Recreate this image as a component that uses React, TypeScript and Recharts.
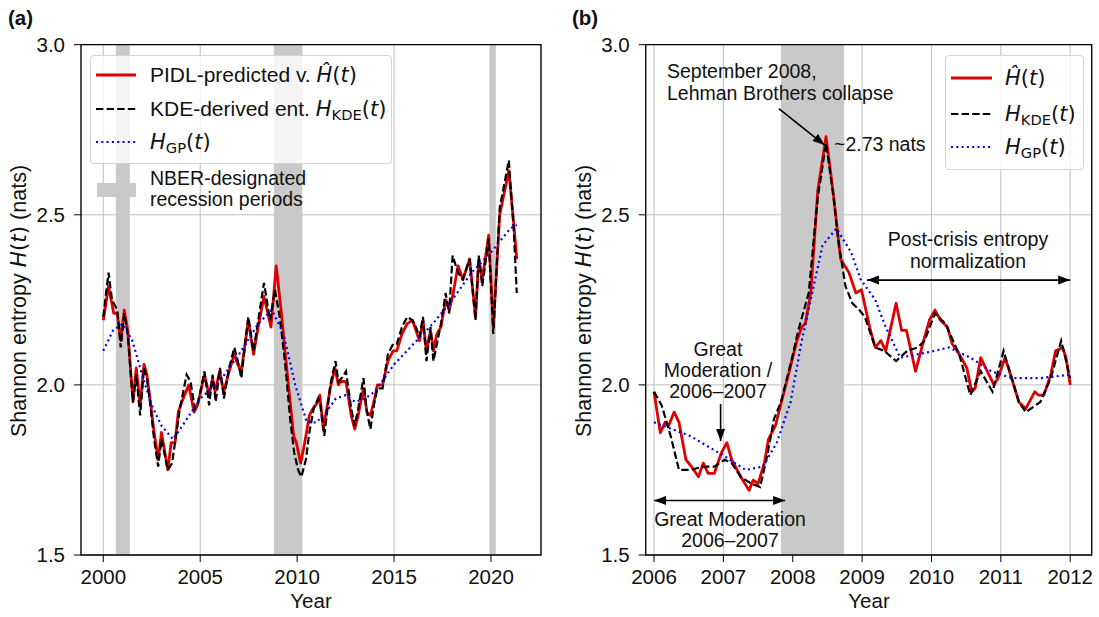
import React from 'react';
import {
  LineChart,
  Line,
  XAxis,
  YAxis,
  CartesianGrid,
  ReferenceArea,
  ReferenceLine,
} from 'recharts';

// ---- panel (a): 2000–2021 ----
const pidlA: [number, number][] = [
  [2000.0, 2.19], [2000.27, 2.29], [2000.54, 2.21], [2000.72, 2.21], [2000.9, 2.13],
  [2001.08, 2.22], [2001.26, 2.16], [2001.53, 1.95], [2001.7, 2.05], [2001.9, 1.94],
  [2002.1, 2.06], [2002.25, 2.03], [2002.43, 1.95], [2002.6, 1.87], [2002.83, 1.78],
  [2003.0, 1.86], [2003.15, 1.81], [2003.33, 1.75], [2003.5, 1.83], [2003.7, 1.83],
  [2003.87, 1.92], [2004.05, 1.95], [2004.41, 2.0], [2004.68, 1.92], [2004.86, 1.94],
  [2005.22, 2.03], [2005.46, 1.97], [2005.64, 2.02], [2005.77, 1.98], [2006.0, 2.04],
  [2006.22, 1.98], [2006.49, 2.04], [2006.76, 2.09], [2006.94, 2.06], [2007.12, 2.04],
  [2007.48, 2.19], [2007.75, 2.09], [2008.02, 2.18], [2008.29, 2.26], [2008.65, 2.17],
  [2008.92, 2.35], [2009.19, 2.21], [2009.37, 2.1], [2009.64, 1.95], [2009.82, 1.85],
  [2009.96, 1.83], [2010.18, 1.77], [2010.36, 1.82], [2010.63, 1.91], [2010.81, 1.93],
  [2011.08, 1.95], [2011.17, 1.97], [2011.35, 1.87], [2011.71, 1.99], [2011.95, 2.05],
  [2012.13, 2.0], [2012.25, 2.01], [2012.52, 2.01], [2012.79, 1.91], [2012.97, 1.87],
  [2013.15, 1.91], [2013.42, 1.99], [2013.6, 1.92], [2013.78, 1.91], [2013.96, 1.95],
  [2014.14, 2.0], [2014.41, 2.0], [2014.68, 2.07], [2014.95, 2.1], [2015.14, 2.1],
  [2015.41, 2.15], [2015.68, 2.18], [2015.95, 2.19], [2016.13, 2.16], [2016.31, 2.13],
  [2016.49, 2.19], [2016.67, 2.1], [2016.88, 2.16], [2017.03, 2.1], [2017.21, 2.15],
  [2017.42, 2.17], [2017.66, 2.25], [2017.84, 2.22], [2018.02, 2.26], [2018.3, 2.35],
  [2018.55, 2.31], [2018.9, 2.37], [2019.2, 2.2], [2019.37, 2.37], [2019.55, 2.31],
  [2019.88, 2.44], [2020.12, 2.17], [2020.45, 2.5], [2020.92, 2.63], [2021.18, 2.47],
  [2021.33, 2.37],
];

const kdeA: [number, number][] = [
  [2000.0, 2.2], [2000.27, 2.33], [2000.45, 2.25], [2000.72, 2.22], [2000.9, 2.11],
  [2001.08, 2.21], [2001.26, 2.15], [2001.53, 1.95], [2001.7, 2.03], [2001.9, 1.91],
  [2002.1, 2.05], [2002.25, 2.02], [2002.43, 1.94], [2002.6, 1.85], [2002.83, 1.76],
  [2003.0, 1.84], [2003.15, 1.8], [2003.33, 1.75], [2003.55, 1.77], [2003.75, 1.85],
  [2003.95, 1.93], [2004.3, 2.03], [2004.5, 2.01], [2004.72, 1.93], [2004.9, 1.95],
  [2005.22, 2.04], [2005.46, 1.94], [2005.64, 2.03], [2005.8, 1.95], [2006.02, 2.05],
  [2006.22, 1.96], [2006.49, 2.05], [2006.76, 2.11], [2006.94, 2.07], [2007.12, 2.02],
  [2007.48, 2.2], [2007.75, 2.1], [2008.02, 2.2], [2008.29, 2.3], [2008.6, 2.19],
  [2008.85, 2.28], [2009.1, 2.2], [2009.37, 2.07], [2009.64, 1.9], [2009.85, 1.8],
  [2010.05, 1.75], [2010.22, 1.73], [2010.45, 1.78], [2010.63, 1.86], [2010.85, 1.93],
  [2011.08, 1.96], [2011.2, 1.94], [2011.4, 1.85], [2011.71, 2.0], [2011.98, 2.07],
  [2012.13, 2.01], [2012.3, 2.02], [2012.52, 2.04], [2012.79, 1.93], [2012.97, 1.88],
  [2013.15, 1.93], [2013.42, 2.02], [2013.6, 1.92], [2013.78, 1.87], [2013.96, 1.94],
  [2014.14, 1.99], [2014.41, 1.99], [2014.68, 2.09], [2014.95, 2.12], [2015.14, 2.12],
  [2015.41, 2.17], [2015.68, 2.2], [2015.95, 2.19], [2016.13, 2.17], [2016.31, 2.14],
  [2016.49, 2.2], [2016.67, 2.07], [2016.88, 2.17], [2017.03, 2.07], [2017.21, 2.12],
  [2017.42, 2.18], [2017.66, 2.27], [2017.84, 2.21], [2018.02, 2.38], [2018.3, 2.33],
  [2018.55, 2.31], [2018.9, 2.37], [2019.2, 2.19], [2019.37, 2.38], [2019.55, 2.29],
  [2019.88, 2.43], [2020.12, 2.15], [2020.45, 2.52], [2020.92, 2.66], [2021.18, 2.45],
  [2021.33, 2.27],
];

const gpA: [number, number][] = [
  [2000.0, 2.1], [2000.5, 2.16], [2001.0, 2.18], [2001.5, 2.13], [2002.0, 2.03],
  [2002.5, 1.94], [2003.0, 1.88], [2003.6, 1.84], [2004.2, 1.89], [2005.0, 1.96],
  [2006.0, 2.01], [2007.0, 2.09], [2008.0, 2.18], [2008.7, 2.22], [2009.3, 2.15],
  [2009.9, 2.0], [2010.5, 1.89], [2011.0, 1.89], [2011.5, 1.92], [2012.0, 1.96],
  [2012.5, 1.97], [2013.0, 1.95], [2013.5, 1.96], [2014.0, 1.98], [2015.0, 2.06],
  [2016.0, 2.12], [2017.0, 2.18], [2018.0, 2.25], [2019.0, 2.33], [2020.0, 2.39],
  [2021.0, 2.46], [2021.33, 2.47],
];

const recessionsA: [number, number][] = [
  [2000.65, 2001.37],
  [2008.8, 2010.27],
  [2019.92, 2020.25],
];
const yearTicksA = [2000, 2005, 2010, 2015, 2020];

// ---- panel (b): 2006–2012 zoom ----
const pidlB: [number, number][] = [
  [2006.0, 1.98], [2006.09, 1.86], [2006.16, 1.89], [2006.21, 1.88], [2006.29, 1.92],
  [2006.36, 1.89], [2006.46, 1.78], [2006.54, 1.76], [2006.64, 1.73], [2006.71, 1.77],
  [2006.78, 1.74], [2006.87, 1.74], [2006.97, 1.8], [2007.05, 1.83], [2007.12, 1.78],
  [2007.25, 1.73], [2007.37, 1.69], [2007.43, 1.72], [2007.5, 1.71], [2007.59, 1.77],
  [2007.65, 1.84], [2007.75, 1.88], [2007.85, 1.96], [2007.95, 2.04], [2008.06, 2.13],
  [2008.13, 2.17], [2008.18, 2.18], [2008.26, 2.27], [2008.36, 2.57], [2008.48, 2.73],
  [2008.58, 2.57], [2008.69, 2.37], [2008.81, 2.33], [2008.91, 2.27], [2008.99, 2.28],
  [2009.12, 2.16], [2009.19, 2.11], [2009.27, 2.13], [2009.34, 2.1], [2009.49, 2.24],
  [2009.57, 2.16], [2009.64, 2.16], [2009.77, 2.04], [2009.9, 2.14], [2009.97, 2.19],
  [2010.05, 2.22], [2010.13, 2.19], [2010.23, 2.17], [2010.3, 2.12], [2010.4, 2.09],
  [2010.51, 2.05], [2010.58, 1.98], [2010.63, 1.99], [2010.71, 2.08], [2010.78, 2.05],
  [2010.9, 2.0], [2010.96, 2.02], [2011.06, 2.08], [2011.14, 2.03], [2011.26, 1.95],
  [2011.36, 1.93], [2011.49, 1.98], [2011.54, 1.97], [2011.62, 1.97], [2011.72, 2.03],
  [2011.79, 2.1], [2011.89, 2.11], [2011.94, 2.08], [2012.0, 2.0],
];

const kdeB: [number, number][] = [
  [2006.0, 1.98], [2006.11, 1.94], [2006.24, 1.85], [2006.36, 1.75], [2006.52, 1.75],
  [2006.72, 1.76], [2006.87, 1.76], [2007.02, 1.78], [2007.12, 1.77], [2007.25, 1.73],
  [2007.4, 1.71], [2007.53, 1.7], [2007.63, 1.79], [2007.73, 1.9], [2007.83, 1.95],
  [2007.98, 2.07], [2008.08, 2.16], [2008.23, 2.27], [2008.36, 2.55], [2008.48, 2.71],
  [2008.59, 2.55], [2008.66, 2.42], [2008.76, 2.29], [2008.86, 2.24], [2008.96, 2.22],
  [2009.04, 2.2], [2009.19, 2.11], [2009.32, 2.1], [2009.49, 2.07], [2009.65, 2.1],
  [2009.8, 2.11], [2009.9, 2.13], [2010.05, 2.21], [2010.2, 2.18], [2010.4, 2.09],
  [2010.56, 1.97], [2010.71, 2.04], [2010.88, 1.98], [2011.04, 2.1], [2011.26, 1.95],
  [2011.36, 1.92], [2011.57, 1.95], [2011.72, 2.02], [2011.87, 2.13], [2012.0, 2.02],
];

const gpB: [number, number][] = [
  [2006.0, 1.89], [2006.52, 1.85], [2007.02, 1.79], [2007.32, 1.75], [2007.57, 1.76],
  [2007.77, 1.83], [2007.97, 1.95], [2008.12, 2.12], [2008.28, 2.27], [2008.43, 2.41],
  [2008.63, 2.46], [2008.84, 2.39], [2008.98, 2.31], [2009.19, 2.25], [2009.34, 2.17],
  [2009.55, 2.08], [2009.8, 2.09], [2010.05, 2.1], [2010.25, 2.11], [2010.56, 2.08],
  [2010.86, 2.04], [2011.16, 2.02], [2011.57, 2.02], [2012.0, 2.03],
];

const recessionB: [number, number] = [2007.83, 2008.74];
const yearTicksB = [2006, 2007, 2008, 2009, 2010, 2011, 2012];

const entropyTicks = [1.5, 2.0, 2.5, 3.0];
const lehmanPeak = Math.max(...pidlB.map((p) => p[1]));

const RED = '#e00000';
const BLUE = '#0000f0';
const SHADE = '#c9c9c9';
const FONT = "'Liberation Sans', Arial, Helvetica, sans-serif";
const MATH_FONT = "'DejaVu Sans', sans-serif";

const toPoints = (rows: [number, number][]) => rows.map(([x, y]) => ({ x, y }));

// straight arrow with filled triangular head(s), drawn in chart pixels
const ArrowShape = (props: any) => {
  const { x1, y1, x2, y2, both } = props;
  const head = (tx: number, ty: number, fx: number, fy: number) => {
    const ang = Math.atan2(ty - fy, tx - fx);
    const len = 12;
    const half = 4.5;
    const bx = tx - len * Math.cos(ang);
    const by = ty - len * Math.sin(ang);
    const px = -Math.sin(ang) * half;
    const py = Math.cos(ang) * half;
    return `${tx},${ty} ${bx + px},${by + py} ${bx - px},${by - py}`;
  };
  return (
    <g>
      <line x1={x1} y1={y1} x2={x2} y2={y2} stroke="#000" strokeWidth={1.6} />
      <polygon points={head(x2, y2, x1, y1)} fill="#000" />
      {both && <polygon points={head(x1, y1, x2, y2)} fill="#000" />}
    </g>
  );
};

const Txt: React.FC<{
  x: number;
  y: number;
  anchor?: 'start' | 'middle';
  size?: number;
  bold?: boolean;
  children: React.ReactNode;
}> = ({ x, y, anchor = 'start', size = 19.5, bold, children }) => (
  <div
    style={{
      position: 'absolute',
      left: x,
      top: y,
      transform: anchor === 'middle' ? 'translate(-50%, -50%)' : 'translate(0, -50%)',
      fontSize: size,
      fontWeight: bold ? 'bold' : 'normal',
      whiteSpace: 'nowrap',
      lineHeight: 1,
      color: '#111',
    }}
  >
    {children}
  </div>
);

// mathtext-like pieces: italic symbols in DejaVu Sans
const M: React.FC<{ children: React.ReactNode }> = ({ children }) => (
  <span style={{ fontFamily: MATH_FONT }}>{children}</span>
);
const Sub: React.FC<{ children: React.ReactNode }> = ({ children }) => (
  <span style={{ fontSize: '0.7em', fontStyle: 'normal', position: 'relative', top: '0.3em' }}>
    {children}
  </span>
);
const HHat = () => (
  <M>
    <i>Ĥ</i>(<i>t</i>)
  </M>
);
const HSub: React.FC<{ s: string }> = ({ s }) => (
  <M>
    <i>H</i>
    <Sub>{s}</Sub>(<i>t</i>)
  </M>
);

const Sample: React.FC<{ x: number; y: number; w: number; kind: 'red' | 'kde' | 'gp' }> = ({
  x,
  y,
  w,
  kind,
}) => (
  <svg style={{ position: 'absolute', left: x, top: y - 5 }} width={w} height={10}>
    {kind === 'red' && <line x1={0} y1={5} x2={w} y2={5} stroke={RED} strokeWidth={2.8} />}
    {kind === 'kde' && (
      <line x1={0} y1={5} x2={w} y2={5} stroke="#000" strokeWidth={2.2} strokeDasharray="7.4 3.2" />
    )}
    {kind === 'gp' && (
      <line x1={0} y1={5} x2={w} y2={5} stroke={BLUE} strokeWidth={2.2} strokeDasharray="2 3.3" />
    )}
  </svg>
);

const YLabel: React.FC<{ x: number }> = ({ x }) => (
  <div
    style={{
      position: 'absolute',
      left: x,
      top: 301,
      transform: 'translate(-50%, -50%) rotate(-90deg)',
      fontSize: 21.5,
      whiteSpace: 'nowrap',
      color: '#111',
      lineHeight: 1,
    }}
  >
    Shannon entropy{' '}
    <M>
      <i>H</i>(<i>t</i>)
    </M>{' '}
    (nats)
  </div>
);

const tickStyle = { fontSize: 20.5, fill: '#111', fontFamily: FONT };

const EntropyPanel: React.FC<{
  width: number;
  margin: { top: number; right: number; bottom: number; left: number };
  domain: [number, number];
  ticks: number[];
  pidl: [number, number][];
  kde: [number, number][];
  gp: [number, number][];
  shades: [number, number][];
  children?: React.ReactNode;
}> = ({ width, margin, domain, ticks, pidl, kde, gp, shades, children }) => (
  <LineChart width={width} height={617} margin={margin} style={{ fontFamily: FONT }}>
    <CartesianGrid stroke="#b8b8b8" strokeWidth={0.9} />
    <XAxis
      dataKey="x"
      type="number"
      domain={domain}
      ticks={ticks}
      interval={0}
      allowDataOverflow
      axisLine={false}
      stroke="#000"
      tickSize={7}
      tickMargin={7}
      height={45}
      tick={tickStyle}
    />
    <YAxis
      dataKey="y"
      type="number"
      domain={[1.5, 3.0]}
      ticks={entropyTicks}
      interval={0}
      allowDataOverflow
      axisLine={false}
      stroke="#000"
      tickSize={7}
      tickMargin={9}
      width={60}
      tick={tickStyle}
      tickFormatter={(v: number) => v.toFixed(1)}
    />
    {shades.map(([a, b]) => (
      <ReferenceArea key={a} x1={a} x2={b} y1={1.5} y2={3.0} fill={SHADE} fillOpacity={1} stroke="none" />
    ))}
    <Line
      data={toPoints(pidl)}
      dataKey="y"
      stroke={RED}
      strokeWidth={2.8}
      dot={false}
      activeDot={false}
      isAnimationActive={false}
      strokeLinejoin="round"
    />
    <Line
      data={toPoints(kde)}
      dataKey="y"
      stroke="#000"
      strokeWidth={2.2}
      strokeDasharray="7.4 3.2"
      dot={false}
      activeDot={false}
      isAnimationActive={false}
    />
    <Line
      data={toPoints(gp)}
      dataKey="y"
      stroke={BLUE}
      strokeWidth={2.2}
      strokeDasharray="2 3.3"
      dot={false}
      activeDot={false}
      isAnimationActive={false}
    />
    {children}
    <ReferenceArea
      x1={domain[0]}
      x2={domain[1]}
      y1={1.5}
      y2={3.0}
      fill="none"
      stroke="#000"
      strokeWidth={1.3}
      ifOverflow="visible"
    />
  </LineChart>
);

export default function App() {
  return (
    <div
      style={{
        position: 'absolute',
        left: 0,
        top: 0,
        width: 1099,
        height: 617,
        background: '#fff',
        fontFamily: FONT,
        overflow: 'hidden',
      }}
    >
      <div style={{ position: 'absolute', left: 0, top: 0 }}>
        <EntropyPanel
          width={560}
          margin={{ top: 44.7, right: 19, bottom: 17, left: 21 }}
          domain={[1998.85, 2022.58]}
          ticks={yearTicksA}
          pidl={pidlA}
          kde={kdeA}
          gp={gpA}
          shades={recessionsA}
        />
      </div>
      <div style={{ position: 'absolute', left: 560, top: 0 }}>
        <EntropyPanel
          width={539}
          margin={{ top: 44.7, right: 7.3, bottom: 17, left: 25.7 }}
          domain={[2005.88, 2012.31]}
          ticks={yearTicksB}
          pidl={pidlB}
          kde={kdeB}
          gp={gpB}
          shades={[recessionB]}
        >
          <ReferenceLine
            segment={[{ x: 2007.8, y: 2.812 }, { x: 2008.46, y: 2.705 }]}
            ifOverflow="visible"
            shape={(p: any) => <ArrowShape {...p} />}
          />
          <ReferenceLine
            segment={[{ x: 2009.07, y: 2.308 }, { x: 2012.0, y: 2.308 }]}
            ifOverflow="visible"
            shape={(p: any) => <ArrowShape {...p} both />}
          />
          <ReferenceLine
            segment={[{ x: 2006.96, y: 1.944 }, { x: 2006.96, y: 1.835 }]}
            ifOverflow="visible"
            shape={(p: any) => <ArrowShape {...p} />}
          />
          <ReferenceLine
            segment={[{ x: 2006.0, y: 1.66 }, { x: 2007.89, y: 1.66 }]}
            ifOverflow="visible"
            shape={(p: any) => <ArrowShape {...p} both />}
          />
        </EntropyPanel>
      </div>

      {/* panel letters */}
      <Txt x={8} y={18} size={20.5} bold>(a)</Txt>
      <Txt x={572} y={18} size={20.5} bold>(b)</Txt>

      {/* axis titles */}
      <YLabel x={19} />
      <YLabel x={584} />
      <Txt x={311} y={601} size={20.5} anchor="middle">Year</Txt>
      <Txt x={869} y={601} size={20.5} anchor="middle">Year</Txt>

      {/* legend (a) */}
      <div
        style={{
          position: 'absolute',
          left: 90,
          top: 55,
          width: 300,
          height: 107,
          border: '1px solid #d4d4d4',
          borderRadius: 4,
          background: 'rgba(255,255,255,0.8)',
        }}
      />
      <Sample x={96} y={75} w={40} kind="red" />
      <Txt x={150} y={75} size={21}>
        PIDL-predicted v. <HHat />
      </Txt>
      <Sample x={96} y={108.5} w={40} kind="kde" />
      <Txt x={150} y={108.5} size={21}>
        KDE-derived ent. <HSub s="KDE" />
      </Txt>
      <Sample x={96} y={142} w={40} kind="gp" />
      <Txt x={150} y={142} size={21}>
        <HSub s="GP" />
      </Txt>
      <div style={{ position: 'absolute', left: 97, top: 183, width: 39, height: 14, background: SHADE }} />
      <Txt x={150} y={179}>NBER-designated</Txt>
      <Txt x={150} y={200}>recession periods</Txt>

      {/* legend (b) */}
      <div
        style={{
          position: 'absolute',
          left: 945,
          top: 55,
          width: 137,
          height: 113,
          border: '1px solid #d4d4d4',
          borderRadius: 4,
          background: 'rgba(255,255,255,0.8)',
        }}
      />
      <Sample x={951} y={77.5} w={41} kind="red" />
      <Txt x={1005} y={77.5} size={21}>
        <HHat />
      </Txt>
      <Sample x={951} y={113.5} w={41} kind="kde" />
      <Txt x={1005} y={113.5} size={21}>
        <HSub s="KDE" />
      </Txt>
      <Sample x={951} y={147} w={41} kind="gp" />
      <Txt x={1005} y={147} size={21}>
        <HSub s="GP" />
      </Txt>

      {/* annotations (b) */}
      <Txt x={667} y={72}>September 2008,</Txt>
      <Txt x={667} y={94}>Lehman Brothers collapse</Txt>
      <Txt x={834} y={145}>~{lehmanPeak.toFixed(2)} nats</Txt>
      <Txt x={968} y={240} anchor="middle">Post-crisis entropy</Txt>
      <Txt x={968} y={262} anchor="middle">normalization</Txt>
      <Txt x={718} y={350} anchor="middle">Great</Txt>
      <Txt x={718} y={371} anchor="middle">Moderation /</Txt>
      <Txt x={718} y={392} anchor="middle">2006–2007</Txt>
      <Txt x={730} y={520} anchor="middle">Great Moderation</Txt>
      <Txt x={730} y={541} anchor="middle">2006–2007</Txt>
    </div>
  );
}
